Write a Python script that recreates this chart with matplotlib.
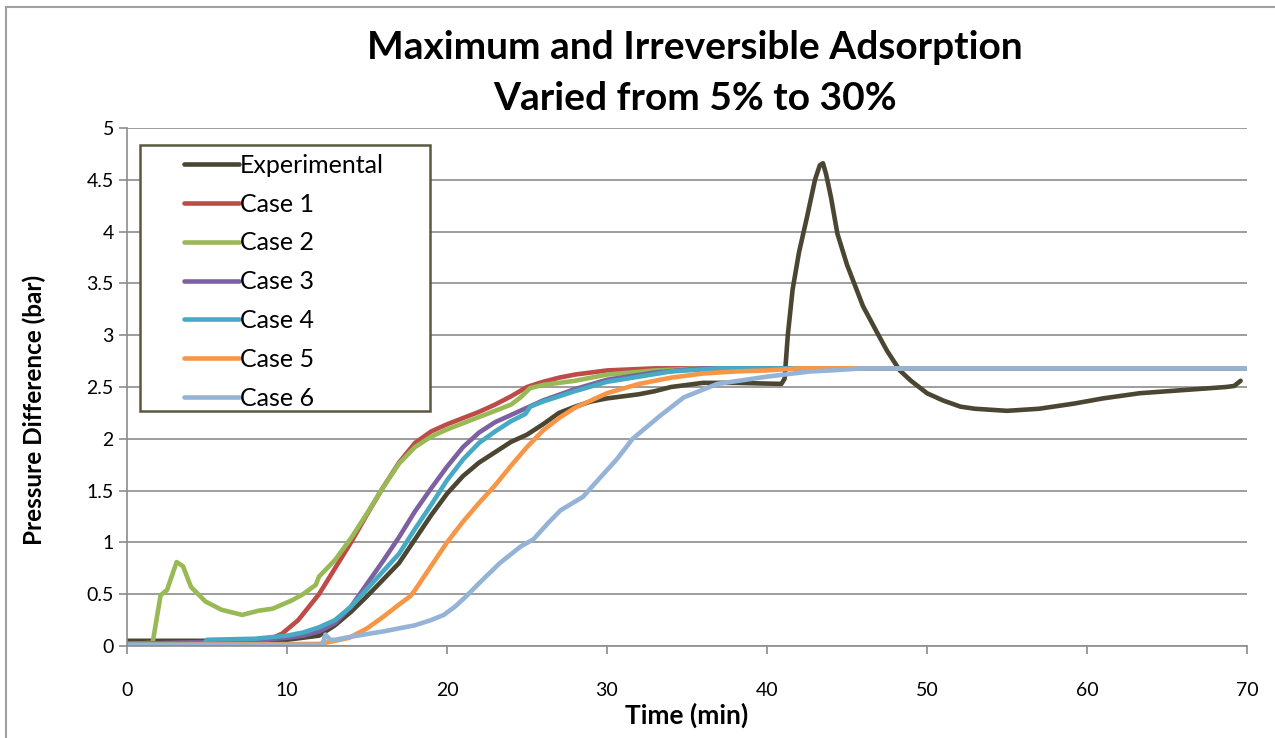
import matplotlib
matplotlib.use("Agg")
import matplotlib.pyplot as plt
from matplotlib.patches import Rectangle

plt.rcParams['font.family'] = ['Lato', 'DejaVu Sans']

# Experimental
exp_t = [0, 9, 10, 11, 12, 13, 14, 15, 16, 17, 18, 19, 20, 21, 22, 23, 24, 25, 26, 27, 28,
         29, 30, 31, 32, 33, 34, 35, 36, 38, 40.9, 41.1, 41.3, 41.6, 42.0, 42.5, 43.0, 43.3,
         43.5, 43.7, 44.0, 44.4, 45.0, 46.0, 46.9, 47.5, 48.3, 49.0, 50.0, 51.0, 52.1, 53.0,
         55.0, 57.0, 59.2, 61.0, 63.3, 66.0, 68.7, 69.2, 69.6]
exp_v = [0.05, 0.05, 0.06, 0.08, 0.1, 0.2, 0.33, 0.48, 0.64, 0.8, 1.03, 1.26, 1.47, 1.64, 1.77,
         1.87, 1.97, 2.04, 2.14, 2.25, 2.31, 2.36, 2.39, 2.41, 2.43, 2.46, 2.5, 2.52, 2.54, 2.54,
         2.53, 2.58, 3.0, 3.44, 3.8, 4.14, 4.5, 4.64, 4.66, 4.55, 4.33, 3.98, 3.68, 3.28, 3.02,
         2.85, 2.66, 2.56, 2.44, 2.37, 2.31, 2.29, 2.27, 2.29, 2.34, 2.39, 2.44, 2.47, 2.5,
         2.51, 2.56]

# Case 1
c1_t = [0, 8, 9, 9.7, 10.7, 12, 13, 14, 15, 16, 17, 18, 19, 20, 21, 22, 23, 24, 25, 26, 27,
        28, 30, 33, 70]
c1_v = [0.02, 0.04, 0.07, 0.12, 0.25, 0.5, 0.75, 1.0, 1.27, 1.53, 1.77, 1.96, 2.07, 2.14, 2.2,
        2.26, 2.33, 2.41, 2.5, 2.55, 2.59, 2.62, 2.66, 2.68, 2.68]

# Case 2
c2_t = [0, 1.6, 2.1, 2.5, 3.1, 3.5, 4.0, 4.9, 5.9, 7.2, 8.2, 9.1, 10.3, 11.0, 11.8, 12.0, 13.0,
        14.0, 15.0, 16.0, 17.0, 18.0, 19.0, 20.0, 21.0, 22.0, 23.0, 24.0, 24.6, 25.2, 26, 27,
        28, 30, 33, 36, 70]
c2_v = [0.02, 0.03, 0.49, 0.54, 0.81, 0.77, 0.57, 0.43, 0.35, 0.30, 0.34, 0.36, 0.44, 0.5, 0.59,
        0.67, 0.83, 1.04, 1.28, 1.53, 1.76, 1.92, 2.02, 2.09, 2.15, 2.21, 2.27, 2.33, 2.4, 2.49,
        2.52, 2.54, 2.56, 2.62, 2.66, 2.68, 2.68]

# Case 3
c3_t = [0, 8, 10, 11, 12, 13, 14, 15, 16, 17, 18, 19, 20, 21, 22, 23, 24, 25, 26, 28, 30, 33,
        36, 70]
c3_v = [0.02, 0.05, 0.08, 0.1, 0.14, 0.22, 0.38, 0.6, 0.82, 1.05, 1.3, 1.52, 1.73, 1.92, 2.06,
        2.16, 2.23, 2.3, 2.37, 2.48, 2.57, 2.64, 2.68, 2.68]

# Case 4
c4_t = [0, 4.8, 5, 8, 10, 11, 12, 13, 14, 15, 16, 17, 18, 19, 20, 21, 22, 23, 24, 24.9, 25.2,
        26, 28, 30, 32, 34, 37, 70]
c4_v = [0.02, 0.02, 0.06, 0.07, 0.1, 0.13, 0.18, 0.25, 0.38, 0.55, 0.72, 0.89, 1.13, 1.36, 1.6,
        1.8, 1.96, 2.07, 2.17, 2.24, 2.31, 2.36, 2.46, 2.55, 2.6, 2.65, 2.68, 2.68]

# Case 5
c5_t = [0, 12, 13, 13.9, 15, 16, 17, 17.7, 18, 19, 20, 21, 22, 23, 24, 25, 26, 27, 28, 30, 32,
        34, 36, 38, 40, 42, 70]
c5_v = [0.01, 0.02, 0.05, 0.08, 0.17, 0.28, 0.4, 0.48, 0.54, 0.77, 1.0, 1.2, 1.38, 1.55, 1.74,
        1.92, 2.08, 2.2, 2.3, 2.44, 2.53, 2.59, 2.63, 2.65, 2.66, 2.68, 2.68]

# Case 6
c6_t = [0, 12.2, 12.4, 12.7, 13, 14, 16, 18, 19, 19.8, 20.5, 21.2, 22.1, 23.3, 24.6, 25.4, 26.4,
        27.1, 28.5, 29.6, 30.6, 31.6, 33.3, 34.8, 36.9, 40, 42.7, 44, 46, 70]
c6_v = [0.01, 0.01, 0.11, 0.06, 0.06, 0.09, 0.14, 0.2, 0.25, 0.3, 0.38, 0.48, 0.62, 0.8, 0.96,
        1.03, 1.2, 1.31, 1.44, 1.63, 1.8, 2.0, 2.22, 2.4, 2.53, 2.6, 2.65, 2.66, 2.68, 2.68]

series = [
    ("Experimental", exp_t, exp_v, "#4a4631"),
    ("Case 1", c1_t, c1_v, "#be4b48"),
    ("Case 2", c2_t, c2_v, "#98b954"),
    ("Case 3", c3_t, c3_v, "#7d60a0"),
    ("Case 4", c4_t, c4_v, "#46aac5"),
    ("Case 5", c5_t, c5_v, "#f79646"),
    ("Case 6", c6_t, c6_v, "#95b3d7"),
]

fig = plt.figure(figsize=(12.75, 7.38), dpi=100)
ax = fig.add_axes([127 / 1275, 1 - 646 / 738, 1120 / 1275, 518 / 738])

# chart area border (Excel style)
fig.patches.append(Rectangle((0.005, -0.02), 1.02, 1.01, transform=fig.transFigure,
                             fill=False, edgecolor="#a0a0a0", linewidth=1.5))

for name, t, v, col in series:
    ax.plot(t, v, color=col, lw=3.3, label=name, solid_capstyle="round",
            solid_joinstyle="round")

ax.set_xlim(0, 70)
ax.set_ylim(0, 5)
ax.set_xticks(range(0, 71, 10))
ax.set_yticks([0, 0.5, 1, 1.5, 2, 2.5, 3, 3.5, 4, 4.5, 5])
ax.set_yticklabels(["0", "0.5", "1", "1.5", "2", "2.5", "3", "3.5", "4", "4.5", "5"])
ax.grid(axis="y", color="#8c8c8c", lw=1.2)
ax.set_axisbelow(True)
for s in ["top", "right"]:
    ax.spines[s].set_visible(False)
for s in ["left", "bottom"]:
    ax.spines[s].set_color("#8c8c8c")
    ax.spines[s].set_linewidth(1.2)
ax.tick_params(axis="both", colors="#8c8c8c", labelcolor="black", labelsize=14,
               direction="out", length=6, width=1.2)
ax.tick_params(axis="x", pad=20)

ax.set_xlabel("Time (min)", fontsize=19, fontweight="bold")
ax.set_ylabel("Pressure Difference (bar)", fontsize=17.5, fontweight="bold")
ax.xaxis.set_label_coords(0.5, -0.11)
ax.yaxis.set_label_coords(-0.072, 0.456)

fig.text(0.545, 0.936, "Maximum and Irreversible Adsorption", ha="center", va="center",
         fontsize=28, fontweight="bold")
fig.text(0.545, 0.867, "Varied from 5% to 30%", ha="center", va="center",
         fontsize=28, fontweight="bold")

# legend: entries placed by hand, box drawn as in Excel
leg = ax.legend(loc="upper left", bbox_to_anchor=((164 - 127) / 1120, (646 - 134) / 518),
                fontsize=18, frameon=False, handlelength=2.2, handletextpad=0.05,
                labelspacing=0.63, borderpad=0.3)
ax.add_patch(Rectangle(((140 - 127) / 1120, (646 - 411) / 518), 290 / 1120, 266 / 518,
                       transform=ax.transAxes, fill=True, facecolor="white",
                       edgecolor="#5b5840", linewidth=1.8, zorder=4))
leg.set_zorder(5)

fig.savefig("out.png", dpi=100)
